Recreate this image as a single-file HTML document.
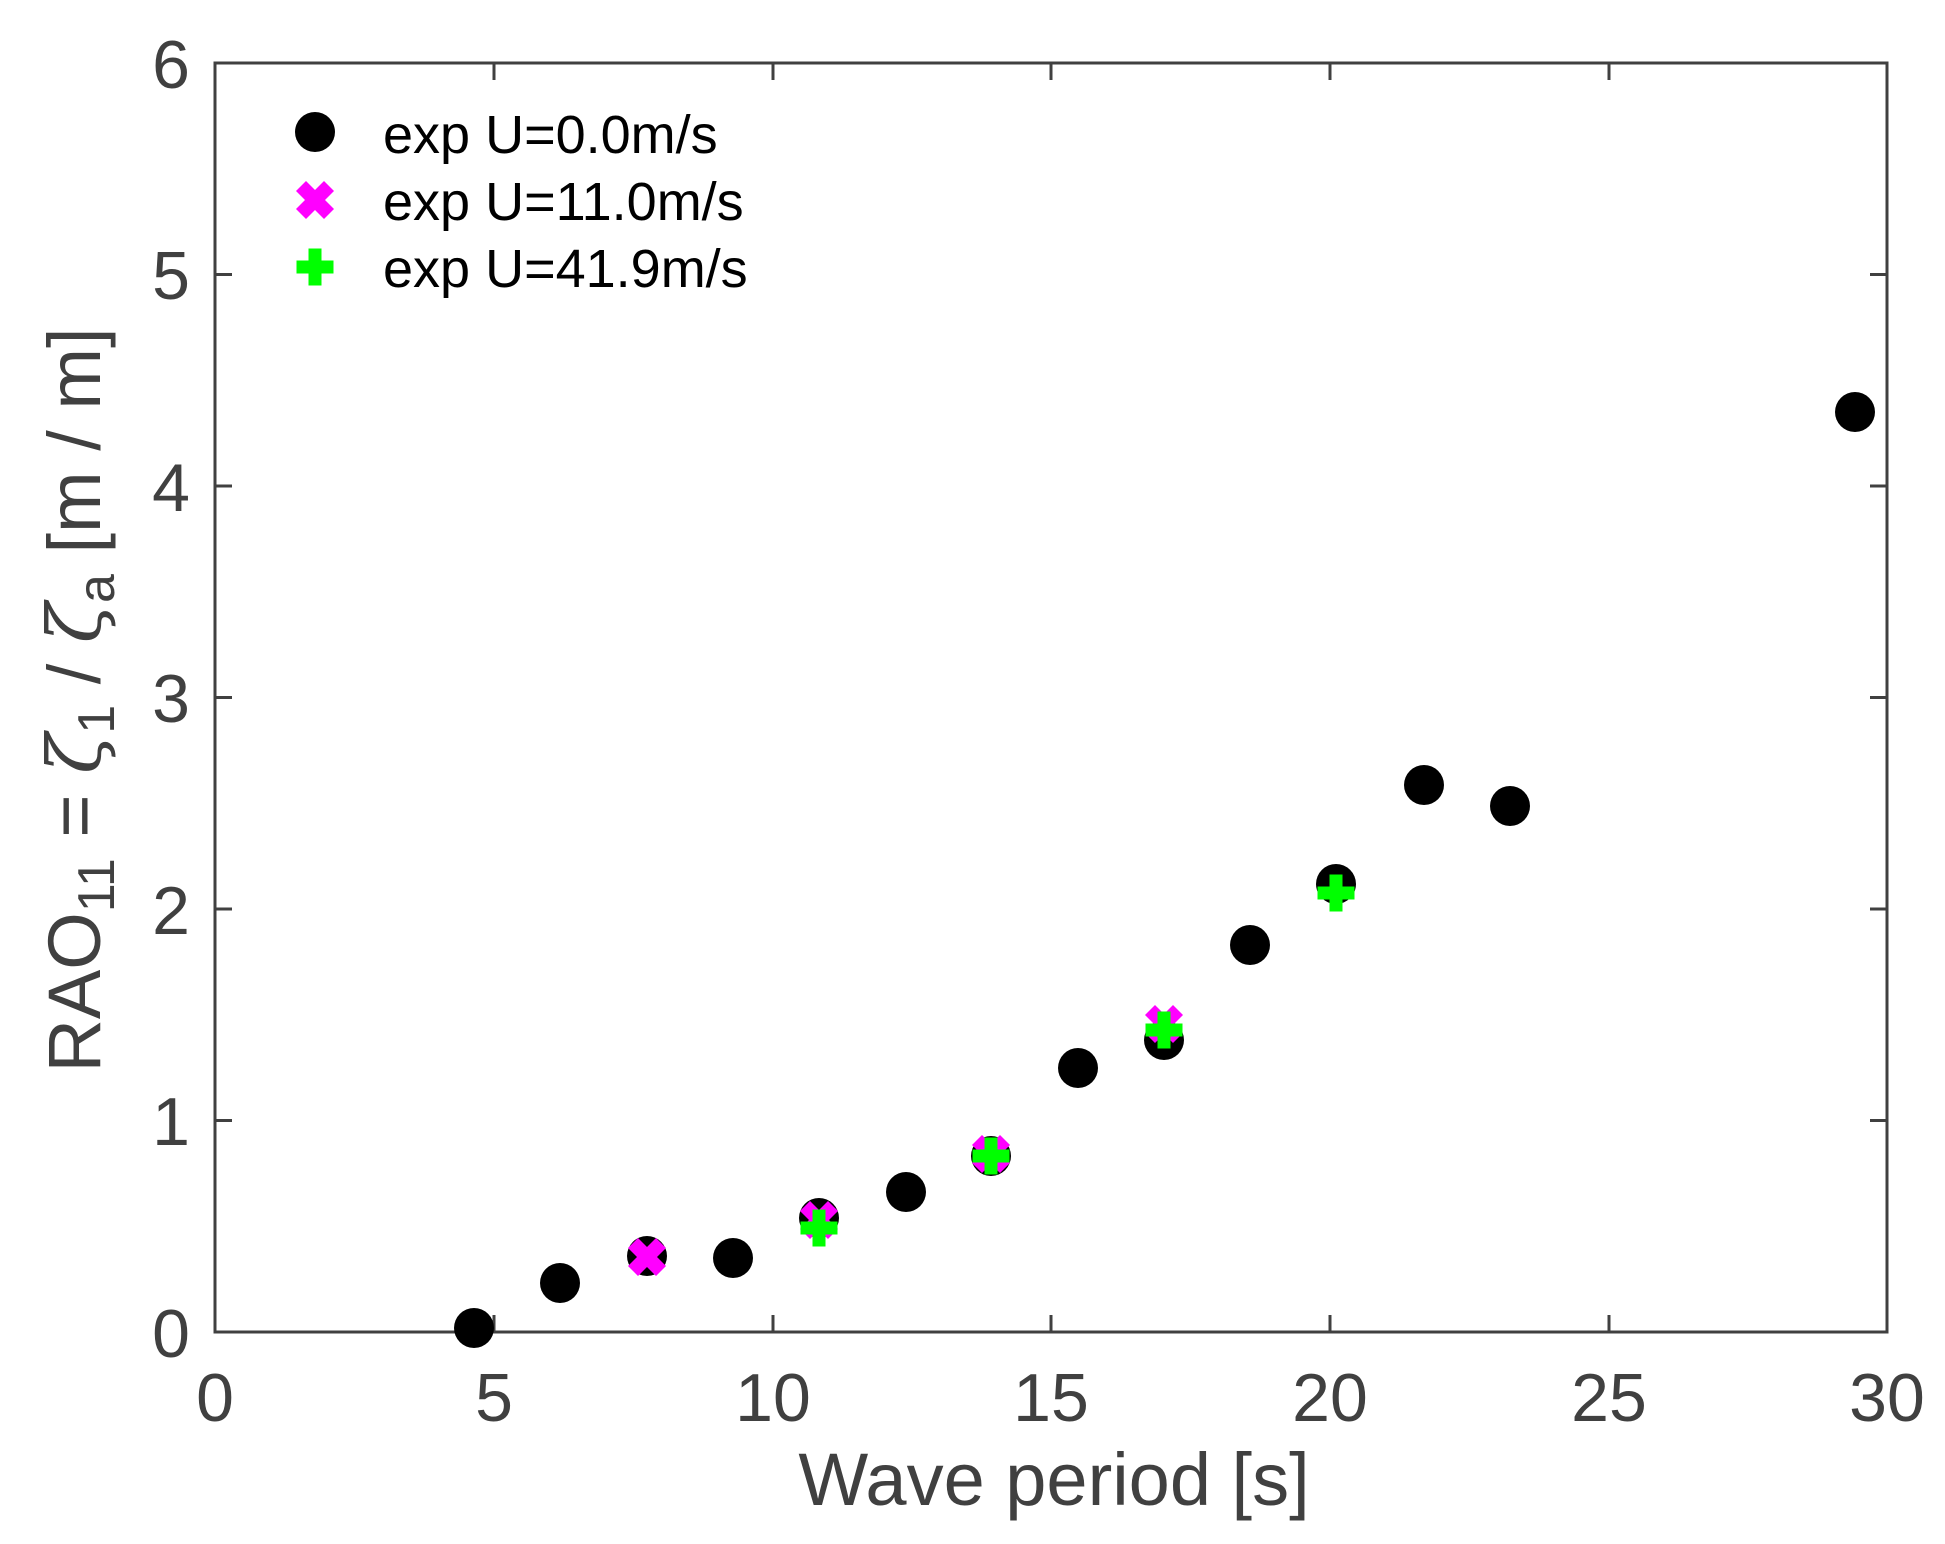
<!DOCTYPE html>
<html><head><style>html,body{margin:0;padding:0;background:#fff}</style></head>
<body>
<svg width="1945" height="1539" viewBox="0 0 1945 1539" xmlns="http://www.w3.org/2000/svg" font-family="Liberation Sans, Arial, sans-serif">
<rect width="1945" height="1539" fill="#fff"/>
<defs>
<g id="c"><circle r="20" fill="#000"/></g>
<g id="x"><path d="M-19,-9 L-9,-19 L0,-10 L9,-19 L19,-9 L10,0 L19,9 L9,19 L0,10 L-9,19 L-19,9 L-10,0 Z" fill="#ff00ff"/></g>
<g id="p"><path d="M-6.5,-18.5 H6.5 V-6.5 H18.5 V6.5 H6.5 V18.5 H-6.5 V6.5 H-18.5 V-6.5 H-6.5 Z" fill="#00ff00"/></g>
</defs>
<g stroke="#404040" stroke-width="3" fill="none">
<rect x="215" y="63" width="1672" height="1269"/>
<path d="M494,1332v-17M773,1332v-17M1051,1332v-17M1330,1332v-17M1609,1332v-17
M494,63v17M773,63v17M1051,63v17M1330,63v17M1609,63v17
M215,1120.5h17M215,909h17M215,697.5h17M215,486h17M215,274.5h17
M1887,1120.5h-17M1887,909h-17M1887,697.5h-17M1887,486h-17M1887,274.5h-17"/>
</g>
<g fill="#404040" font-size="68" text-anchor="middle">
<text x="215" y="1421">0</text><text x="494" y="1421">5</text><text x="773" y="1421">10</text>
<text x="1051" y="1421">15</text><text x="1330" y="1421">20</text><text x="1609" y="1421">25</text><text x="1887" y="1421">30</text>
</g>
<g fill="#404040" font-size="68" text-anchor="end">
<text x="190" y="1357">0</text><text x="190" y="1145">1</text><text x="190" y="934">2</text>
<text x="190" y="722">3</text><text x="190" y="511">4</text><text x="190" y="299">5</text><text x="190" y="88">6</text>
</g>
<text x="1054" y="1505" fill="#404040" font-size="74" text-anchor="middle">Wave period [s]</text>
<text transform="translate(100,700) rotate(-90)" fill="#404040" font-size="74" text-anchor="middle">RAO<tspan font-size="52" dy="14">11</tspan><tspan dy="-14"> = </tspan><tspan font-family="DejaVu Serif, serif" font-style="italic">ζ</tspan><tspan font-size="52" dy="14">1</tspan><tspan dy="-14">  /  </tspan><tspan font-family="DejaVu Serif, serif" font-style="italic">ζ</tspan><tspan font-size="52" dy="14">a</tspan><tspan dy="-14">  [m / m]</tspan></text>
<g>
<use href="#c" x="474" y="1328"/>
<use href="#c" x="560" y="1283"/>
<use href="#c" x="647" y="1256"/>
<use href="#c" x="733" y="1258"/>
<use href="#c" x="819" y="1218"/>
<use href="#c" x="906" y="1192"/>
<use href="#c" x="991" y="1156"/>
<use href="#c" x="1078" y="1068"/>
<use href="#c" x="1164" y="1040"/>
<use href="#c" x="1250" y="945"/>
<use href="#c" x="1336" y="884"/>
<use href="#c" x="1424" y="785"/>
<use href="#c" x="1510" y="806"/>
<use href="#c" x="1855" y="412"/>
<use href="#x" x="647" y="1257"/>
<use href="#x" x="819" y="1220"/>
<use href="#x" x="991" y="1154"/>
<use href="#x" x="1164" y="1024"/>
<use href="#p" x="819" y="1228"/>
<use href="#p" x="991" y="1156"/>
<use href="#p" x="1164" y="1030"/>
<use href="#p" x="1336" y="893"/>
</g>
<use href="#c" x="315" y="132"/>
<use href="#x" x="315" y="200"/>
<use href="#p" x="315" y="267"/>
<g fill="#000" font-size="54">
<text x="383" y="153">exp U=0.0m/s</text>
<text x="383" y="220">exp U=11.0m/s</text>
<text x="383" y="287">exp U=41.9m/s</text>
</g>
</svg>
</body></html>
